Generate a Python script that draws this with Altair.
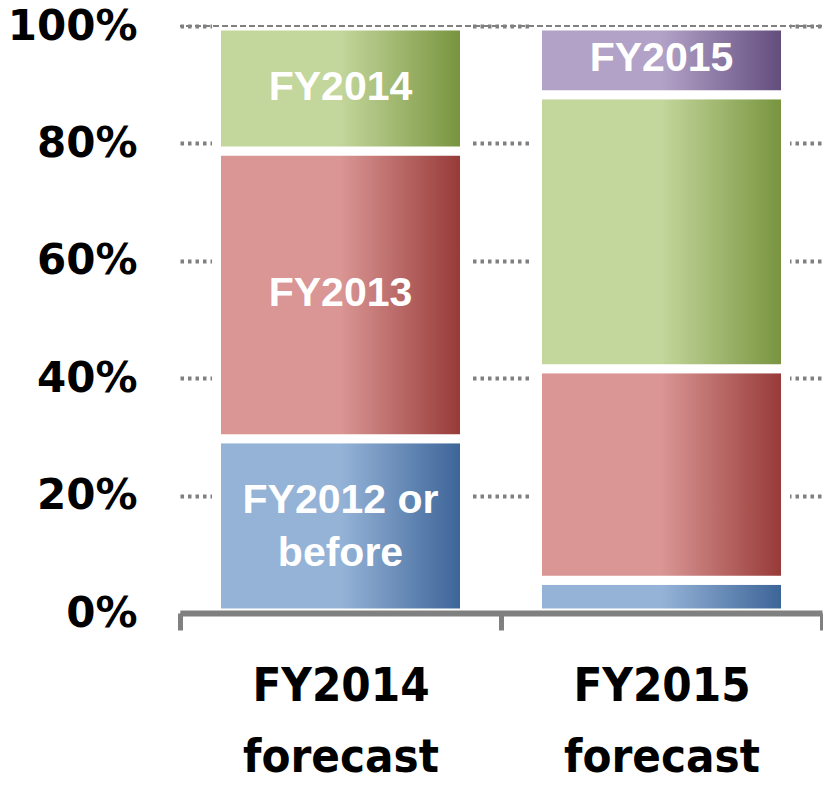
import altair as alt
import pandas as pd

periods = ["FY2014 forecast", "FY2015 forecast"]
categories = ["FY2012 or before", "FY2013", "FY2014", "FY2015"]
fy2014_forecast = [29.7, 49.0, 21.3, 0.0]
fy2015_forecast = [5.6, 36.0, 46.7, 11.7]
fy2014_labels = ["FY2012 or\nbefore", "FY2013", "FY2014", ""]
fy2015_labels = ["", "", "", "FY2015"]
light_colors = ["#95B3D7", "#D99694", "#C3D69B", "#B3A2C7"]
dark_colors = ["#3A6296", "#953735", "#76923C", "#604A7B"]
y_ticks = [0, 20, 40, 60, 80, 100]

rows = []
for period, values, labels in [
    (periods[0], fy2014_forecast, fy2014_labels),
    (periods[1], fy2015_forecast, fy2015_labels),
]:
    start = 0.0
    for cat, v, lab in zip(categories, values, labels):
        if v > 0:
            rows.append({"period": period, "category": cat, "start": start,
                         "end": start + v, "mid": start + v / 2, "label": lab})
        start += v
df = pd.DataFrame(rows)

x_enc = alt.X(
    "period:N", sort=periods,
    scale=alt.Scale(paddingInner=0, paddingOuter=0),
    axis=alt.Axis(
        title=None, labelAngle=0, domainColor="#808080", domainWidth=6,
        tickColor="#808080", tickWidth=5, tickSize=17, tickBand="extent",
        labelFont="DejaVu Sans Condensed, DejaVu Sans", labelFontSize=47,
        labelFontWeight="bold", labelColor="black", labelLineHeight=71,
        labelPadding=33, labelLimit=0, labelExpr="split(datum.label, ' ')",
        zindex=1,
    ),
)
y_scale = alt.Scale(domain=[0, 100], nice=False)
y_axis = alt.Axis(
    values=y_ticks, labelExpr="datum.value + '%'", title=None,
    grid=True, gridColor="#808080", gridWidth=4, gridDash=[3.5, 4],
    domain=False, ticks=False, labelFont="DejaVu Sans", labelFontWeight="bold",
    labelFontSize=42, labelColor="black", labelPadding=43,
)

base = alt.Chart(df)
layers = []
for i, cat in enumerate(categories):
    grad = alt.Gradient(
        gradient="linear",
        stops=[
            alt.GradientStop(color=light_colors[i], offset=0),
            alt.GradientStop(color=light_colors[i], offset=0.5),
            alt.GradientStop(color=dark_colors[i], offset=1),
        ],
        x1=0, x2=1, y1=0, y2=0,
    )
    layers.append(
        base.transform_filter(alt.datum.category == cat)
        .mark_bar(color=grad, stroke="white", strokeWidth=9, size=248)
        .encode(
            x=x_enc,
            y=alt.Y("start:Q", scale=y_scale, axis=y_axis),
            y2="end:Q",
        )
    )

top_rule = alt.Chart(df).mark_rule(
    color="#808080", strokeWidth=1.5, strokeDash=[6, 3]
).encode(y=alt.datum(100, scale=y_scale))

text_props = dict(
    font="Liberation Sans", fontWeight="bold", fontSize=41, color="white",
    baseline="middle", align="center", lineBreak="\n", lineHeight=53,
)
text_enc = dict(
    x=alt.X("period:N", sort=periods),
    y=alt.Y("mid:Q", scale=y_scale),
    text="label:N",
)
text_single = base.transform_filter(
    "datum.label != '' && indexof(datum.label, '\\n') < 0"
).mark_text(dy=-1, **text_props).encode(**text_enc)
text_multi = base.transform_filter(
    "indexof(datum.label, '\\n') >= 0"
).mark_text(dy=-25, **text_props).encode(**text_enc)

chart = alt.layer(*layers, top_rule, text_single, text_multi).properties(
    width=642, height=587,
    padding={"left": 172, "top": 18, "right": 1, "bottom": 165},
    autosize=alt.AutoSizeParams(type="none"),
    background="white",
).configure_view(stroke=None)

chart.save("out.html", embed_options={"renderer": "svg", "actions": False})
